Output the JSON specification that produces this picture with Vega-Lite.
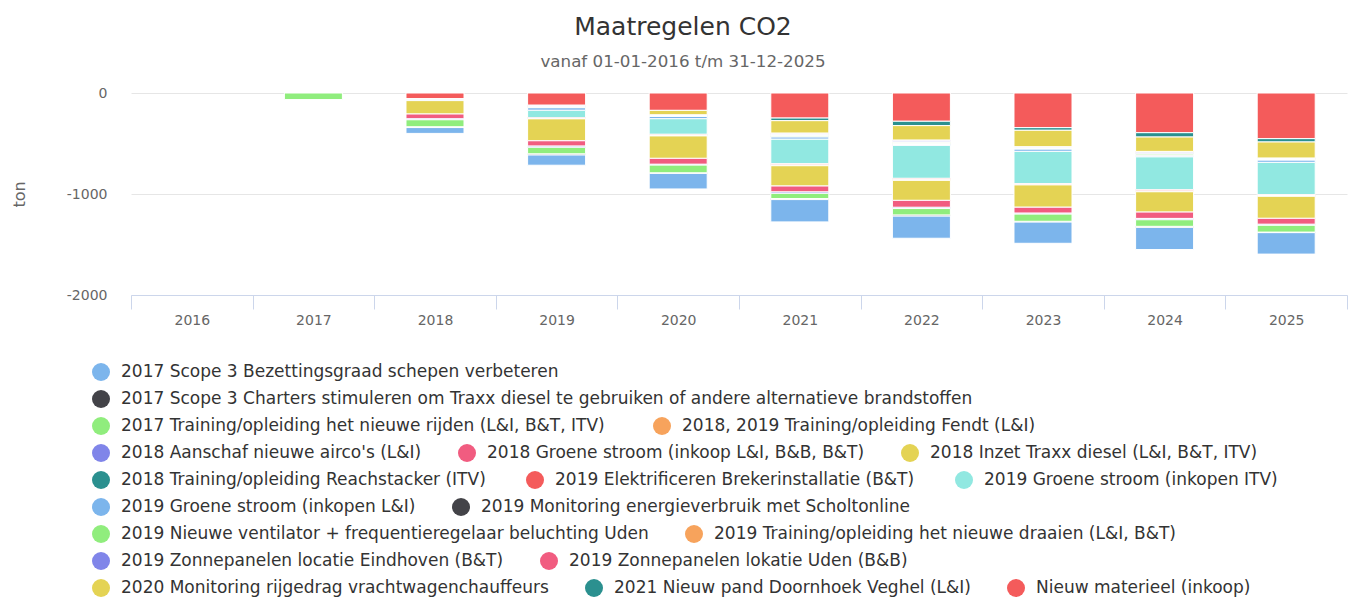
{
  "$schema": "https://vega.github.io/schema/vega-lite/v6.json",
  "width": 1216,
  "height": 202,
  "autosize": {"type": "none"},
  "padding": {"left": 131, "top": 93, "right": 20, "bottom": 309},
  "background": "white",
  "title": {
    "text": "Maatregelen CO2",
    "subtitle": "vanaf 01-01-2016 t/m 31-12-2025",
    "anchor": "middle",
    "dx": -56,
    "font": "DejaVu Sans",
    "fontSize": 25,
    "fontWeight": "normal",
    "color": "#333333",
    "subtitleFont": "DejaVu Sans",
    "subtitleFontSize": 16.7,
    "subtitleColor": "#666666",
    "subtitlePadding": 14,
    "offset": 15
  },
  "datasets": {
    "co2": [
      {"jaar": "2017", "maatregel": "2017 Training/opleiding het nieuwe rijden (L&I, B&T, ITV)", "ton": -65},

      {"jaar": "2018", "maatregel": "Nieuw materieel (inkoop)", "ton": -55},
      {"jaar": "2018", "maatregel": "2019 Elektrificeren Brekerinstallatie (B&T)", "ton": -10},
      {"jaar": "2018", "maatregel": "2018 Training/opleiding Reachstacker (ITV)", "ton": -10},
      {"jaar": "2018", "maatregel": "2018 Inzet Traxx diesel (L&I, B&T, ITV)", "ton": -133},
      {"jaar": "2018", "maatregel": "2018 Groene stroom (inkoop L&I, B&B, B&T)", "ton": -48},
      {"jaar": "2018", "maatregel": "2018 Aanschaf nieuwe airco's (L&I)", "ton": -8},
      {"jaar": "2018", "maatregel": "2017 Training/opleiding het nieuwe rijden (L&I, B&T, ITV)", "ton": -70},
      {"jaar": "2018", "maatregel": "2017 Scope 3 Charters stimuleren om Traxx diesel te gebruiken of andere alternatieve brandstoffen", "ton": -8},
      {"jaar": "2018", "maatregel": "2017 Scope 3 Bezettingsgraad schepen verbeteren", "ton": -58},

      {"jaar": "2019", "maatregel": "Nieuw materieel (inkoop)", "ton": -119},
      {"jaar": "2019", "maatregel": "2019 Zonnepanelen lokatie Uden (B&B)", "ton": -7},
      {"jaar": "2019", "maatregel": "2019 Zonnepanelen locatie Eindhoven (B&T)", "ton": -7},
      {"jaar": "2019", "maatregel": "2019 Training/opleiding het nieuwe draaien (L&I, B&T)", "ton": -6},
      {"jaar": "2019", "maatregel": "2019 Nieuwe ventilator + frequentieregelaar beluchting Uden", "ton": -6},
      {"jaar": "2019", "maatregel": "2019 Groene stroom (inkopen L&I)", "ton": -25},
      {"jaar": "2019", "maatregel": "2019 Groene stroom (inkopen ITV)", "ton": -76},
      {"jaar": "2019", "maatregel": "2019 Elektrificeren Brekerinstallatie (B&T)", "ton": -5},
      {"jaar": "2019", "maatregel": "2018, 2019 Training/opleiding Fendt (L&I)", "ton": -5},
      {"jaar": "2019", "maatregel": "2018 Inzet Traxx diesel (L&I, B&T, ITV)", "ton": -217},
      {"jaar": "2019", "maatregel": "2018 Groene stroom (inkoop L&I, B&B, B&T)", "ton": -53},
      {"jaar": "2019", "maatregel": "2018 Aanschaf nieuwe airco's (L&I)", "ton": -10},
      {"jaar": "2019", "maatregel": "2017 Training/opleiding het nieuwe rijden (L&I, B&T, ITV)", "ton": -66},
      {"jaar": "2019", "maatregel": "2017 Scope 3 Charters stimuleren om Traxx diesel te gebruiken of andere alternatieve brandstoffen", "ton": -10},
      {"jaar": "2019", "maatregel": "2017 Scope 3 Bezettingsgraad schepen verbeteren", "ton": -103},

      {"jaar": "2020", "maatregel": "Nieuw materieel (inkoop)", "ton": -172},
      {"jaar": "2020", "maatregel": "2020 Monitoring rijgedrag vrachtwagenchauffeurs", "ton": -43},
      {"jaar": "2020", "maatregel": "2019 Zonnepanelen lokatie Uden (B&B)", "ton": -4},
      {"jaar": "2020", "maatregel": "2019 Zonnepanelen locatie Eindhoven (B&T)", "ton": -4},
      {"jaar": "2020", "maatregel": "2019 Training/opleiding het nieuwe draaien (L&I, B&T)", "ton": -4},
      {"jaar": "2020", "maatregel": "2019 Nieuwe ventilator + frequentieregelaar beluchting Uden", "ton": -4},
      {"jaar": "2020", "maatregel": "2019 Groene stroom (inkopen L&I)", "ton": -23},
      {"jaar": "2020", "maatregel": "2019 Groene stroom (inkopen ITV)", "ton": -155},
      {"jaar": "2020", "maatregel": "2019 Elektrificeren Brekerinstallatie (B&T)", "ton": -8},
      {"jaar": "2020", "maatregel": "2018, 2019 Training/opleiding Fendt (L&I)", "ton": -8},
      {"jaar": "2020", "maatregel": "2018 Inzet Traxx diesel (L&I, B&T, ITV)", "ton": -222},
      {"jaar": "2020", "maatregel": "2018 Groene stroom (inkoop L&I, B&B, B&T)", "ton": -59},
      {"jaar": "2020", "maatregel": "2018 Aanschaf nieuwe airco's (L&I)", "ton": -6},
      {"jaar": "2020", "maatregel": "2017 Training/opleiding het nieuwe rijden (L&I, B&T, ITV)", "ton": -78},
      {"jaar": "2020", "maatregel": "2017 Scope 3 Charters stimuleren om Traxx diesel te gebruiken of andere alternatieve brandstoffen", "ton": -5},
      {"jaar": "2020", "maatregel": "2017 Scope 3 Bezettingsgraad schepen verbeteren", "ton": -155},

      {"jaar": "2021", "maatregel": "Nieuw materieel (inkoop)", "ton": -248},
      {"jaar": "2021", "maatregel": "2021 Nieuw pand Doornhoek Veghel (L&I)", "ton": -26},
      {"jaar": "2021", "maatregel": "2020 Monitoring rijgedrag vrachtwagenchauffeurs", "ton": -122},
      {"jaar": "2021", "maatregel": "2019 Zonnepanelen lokatie Uden (B&B)", "ton": -8},
      {"jaar": "2021", "maatregel": "2019 Zonnepanelen locatie Eindhoven (B&T)", "ton": -8},
      {"jaar": "2021", "maatregel": "2019 Training/opleiding het nieuwe draaien (L&I, B&T)", "ton": -8},
      {"jaar": "2021", "maatregel": "2019 Nieuwe ventilator + frequentieregelaar beluchting Uden", "ton": -8},
      {"jaar": "2021", "maatregel": "2019 Monitoring energieverbruik met Scholtonline", "ton": -8},
      {"jaar": "2021", "maatregel": "2019 Groene stroom (inkopen L&I)", "ton": -20},
      {"jaar": "2021", "maatregel": "2019 Groene stroom (inkopen ITV)", "ton": -244},
      {"jaar": "2021", "maatregel": "2019 Elektrificeren Brekerinstallatie (B&T)", "ton": -10},
      {"jaar": "2021", "maatregel": "2018, 2019 Training/opleiding Fendt (L&I)", "ton": -10},
      {"jaar": "2021", "maatregel": "2018 Inzet Traxx diesel (L&I, B&T, ITV)", "ton": -201},
      {"jaar": "2021", "maatregel": "2018 Groene stroom (inkoop L&I, B&B, B&T)", "ton": -59},
      {"jaar": "2021", "maatregel": "2018 Aanschaf nieuwe airco's (L&I)", "ton": -12},
      {"jaar": "2021", "maatregel": "2017 Training/opleiding het nieuwe rijden (L&I, B&T, ITV)", "ton": -53},
      {"jaar": "2021", "maatregel": "2017 Scope 3 Charters stimuleren om Traxx diesel te gebruiken of andere alternatieve brandstoffen", "ton": -10},
      {"jaar": "2021", "maatregel": "2017 Scope 3 Bezettingsgraad schepen verbeteren", "ton": -221},

      {"jaar": "2022", "maatregel": "Nieuw materieel (inkoop)", "ton": -280},
      {"jaar": "2022", "maatregel": "2021 Nieuw pand Doornhoek Veghel (L&I)", "ton": -43},
      {"jaar": "2022", "maatregel": "2020 Monitoring rijgedrag vrachtwagenchauffeurs", "ton": -142},
      {"jaar": "2022", "maatregel": "2019 Zonnepanelen lokatie Uden (B&B)", "ton": -9},
      {"jaar": "2022", "maatregel": "2019 Zonnepanelen locatie Eindhoven (B&T)", "ton": -9},
      {"jaar": "2022", "maatregel": "2019 Training/opleiding het nieuwe draaien (L&I, B&T)", "ton": -9},
      {"jaar": "2022", "maatregel": "2019 Nieuwe ventilator + frequentieregelaar beluchting Uden", "ton": -9},
      {"jaar": "2022", "maatregel": "2019 Monitoring energieverbruik met Scholtonline", "ton": -9},
      {"jaar": "2022", "maatregel": "2019 Groene stroom (inkopen L&I)", "ton": -8},
      {"jaar": "2022", "maatregel": "2019 Groene stroom (inkopen ITV)", "ton": -327},
      {"jaar": "2022", "maatregel": "2019 Elektrificeren Brekerinstallatie (B&T)", "ton": -10},
      {"jaar": "2022", "maatregel": "2018, 2019 Training/opleiding Fendt (L&I)", "ton": -10},
      {"jaar": "2022", "maatregel": "2018 Inzet Traxx diesel (L&I, B&T, ITV)", "ton": -198},
      {"jaar": "2022", "maatregel": "2018 Groene stroom (inkoop L&I, B&B, B&T)", "ton": -69},
      {"jaar": "2022", "maatregel": "2018 Aanschaf nieuwe airco's (L&I)", "ton": -12},
      {"jaar": "2022", "maatregel": "2017 Training/opleiding het nieuwe rijden (L&I, B&T, ITV)", "ton": -63},
      {"jaar": "2022", "maatregel": "2017 Scope 3 Charters stimuleren om Traxx diesel te gebruiken of andere alternatieve brandstoffen", "ton": -10},
      {"jaar": "2022", "maatregel": "2017 Scope 3 Bezettingsgraad schepen verbeteren", "ton": -221},

      {"jaar": "2023", "maatregel": "Nieuw materieel (inkoop)", "ton": -343},
      {"jaar": "2023", "maatregel": "2021 Nieuw pand Doornhoek Veghel (L&I)", "ton": -26},
      {"jaar": "2023", "maatregel": "2020 Monitoring rijgedrag vrachtwagenchauffeurs", "ton": -162},
      {"jaar": "2023", "maatregel": "2019 Zonnepanelen lokatie Uden (B&B)", "ton": -6},
      {"jaar": "2023", "maatregel": "2019 Zonnepanelen locatie Eindhoven (B&T)", "ton": -6},
      {"jaar": "2023", "maatregel": "2019 Training/opleiding het nieuwe draaien (L&I, B&T)", "ton": -6},
      {"jaar": "2023", "maatregel": "2019 Nieuwe ventilator + frequentieregelaar beluchting Uden", "ton": -5},
      {"jaar": "2023", "maatregel": "2019 Groene stroom (inkopen L&I)", "ton": -23},
      {"jaar": "2023", "maatregel": "2019 Groene stroom (inkopen ITV)", "ton": -320},
      {"jaar": "2023", "maatregel": "2019 Elektrificeren Brekerinstallatie (B&T)", "ton": -7},
      {"jaar": "2023", "maatregel": "2018, 2019 Training/opleiding Fendt (L&I)", "ton": -6},
      {"jaar": "2023", "maatregel": "2018 Inzet Traxx diesel (L&I, B&T, ITV)", "ton": -221},
      {"jaar": "2023", "maatregel": "2018 Groene stroom (inkoop L&I, B&B, B&T)", "ton": -59},
      {"jaar": "2023", "maatregel": "2018 Aanschaf nieuwe airco's (L&I)", "ton": -7},
      {"jaar": "2023", "maatregel": "2017 Training/opleiding het nieuwe rijden (L&I, B&T, ITV)", "ton": -73},
      {"jaar": "2023", "maatregel": "2017 Scope 3 Charters stimuleren om Traxx diesel te gebruiken of andere alternatieve brandstoffen", "ton": -6},
      {"jaar": "2023", "maatregel": "2017 Scope 3 Bezettingsgraad schepen verbeteren", "ton": -212},

      {"jaar": "2024", "maatregel": "Nieuw materieel (inkoop)", "ton": -393},
      {"jaar": "2024", "maatregel": "2021 Nieuw pand Doornhoek Veghel (L&I)", "ton": -43},
      {"jaar": "2024", "maatregel": "2020 Monitoring rijgedrag vrachtwagenchauffeurs", "ton": -142},
      {"jaar": "2024", "maatregel": "2019 Zonnepanelen lokatie Uden (B&B)", "ton": -9},
      {"jaar": "2024", "maatregel": "2019 Zonnepanelen locatie Eindhoven (B&T)", "ton": -9},
      {"jaar": "2024", "maatregel": "2019 Training/opleiding het nieuwe draaien (L&I, B&T)", "ton": -9},
      {"jaar": "2024", "maatregel": "2019 Nieuwe ventilator + frequentieregelaar beluchting Uden", "ton": -9},
      {"jaar": "2024", "maatregel": "2019 Monitoring energieverbruik met Scholtonline", "ton": -9},
      {"jaar": "2024", "maatregel": "2019 Groene stroom (inkopen L&I)", "ton": -8},
      {"jaar": "2024", "maatregel": "2019 Groene stroom (inkopen ITV)", "ton": -327},
      {"jaar": "2024", "maatregel": "2019 Elektrificeren Brekerinstallatie (B&T)", "ton": -10},
      {"jaar": "2024", "maatregel": "2018, 2019 Training/opleiding Fendt (L&I)", "ton": -10},
      {"jaar": "2024", "maatregel": "2018 Inzet Traxx diesel (L&I, B&T, ITV)", "ton": -201},
      {"jaar": "2024", "maatregel": "2018 Groene stroom (inkoop L&I, B&B, B&T)", "ton": -63},
      {"jaar": "2024", "maatregel": "2018 Aanschaf nieuwe airco's (L&I)", "ton": -12},
      {"jaar": "2024", "maatregel": "2017 Training/opleiding het nieuwe rijden (L&I, B&T, ITV)", "ton": -66},
      {"jaar": "2024", "maatregel": "2017 Scope 3 Charters stimuleren om Traxx diesel te gebruiken of andere alternatieve brandstoffen", "ton": -10},
      {"jaar": "2024", "maatregel": "2017 Scope 3 Bezettingsgraad schepen verbeteren", "ton": -220},

      {"jaar": "2025", "maatregel": "Nieuw materieel (inkoop)", "ton": -452},
      {"jaar": "2025", "maatregel": "2021 Nieuw pand Doornhoek Veghel (L&I)", "ton": -33},
      {"jaar": "2025", "maatregel": "2020 Monitoring rijgedrag vrachtwagenchauffeurs", "ton": -158},
      {"jaar": "2025", "maatregel": "2019 Zonnepanelen lokatie Uden (B&B)", "ton": -5},
      {"jaar": "2025", "maatregel": "2019 Zonnepanelen locatie Eindhoven (B&T)", "ton": -5},
      {"jaar": "2025", "maatregel": "2019 Training/opleiding het nieuwe draaien (L&I, B&T)", "ton": -5},
      {"jaar": "2025", "maatregel": "2019 Nieuwe ventilator + frequentieregelaar beluchting Uden", "ton": -5},
      {"jaar": "2025", "maatregel": "2019 Groene stroom (inkopen L&I)", "ton": -23},
      {"jaar": "2025", "maatregel": "2019 Groene stroom (inkopen ITV)", "ton": -320},
      {"jaar": "2025", "maatregel": "2019 Elektrificeren Brekerinstallatie (B&T)", "ton": -9},
      {"jaar": "2025", "maatregel": "2018, 2019 Training/opleiding Fendt (L&I)", "ton": -8},
      {"jaar": "2025", "maatregel": "2018 Inzet Traxx diesel (L&I, B&T, ITV)", "ton": -218},
      {"jaar": "2025", "maatregel": "2018 Groene stroom (inkoop L&I, B&B, B&T)", "ton": -59},
      {"jaar": "2025", "maatregel": "2018 Aanschaf nieuwe airco's (L&I)", "ton": -8},
      {"jaar": "2025", "maatregel": "2017 Training/opleiding het nieuwe rijden (L&I, B&T, ITV)", "ton": -69},
      {"jaar": "2025", "maatregel": "2017 Scope 3 Charters stimuleren om Traxx diesel te gebruiken of andere alternatieve brandstoffen", "ton": -5},
      {"jaar": "2025", "maatregel": "2017 Scope 3 Bezettingsgraad schepen verbeteren", "ton": -213}
    ]
  },
  "data": {"name": "co2"},
  "transform": [
    {"stack": "ton", "groupby": ["jaar"], "sort": [{"field": "maatregel", "order": "descending"}], "as": ["y0", "y1"], "offset": "zero"}
  ],
  "encoding": {
    "x": {
      "field": "jaar",
      "type": "ordinal",
      "scale": {"domain": ["2016", "2017", "2018", "2019", "2020", "2021", "2022", "2023", "2024", "2025"], "paddingInner": 0, "paddingOuter": 0},
      "axis": {"title": null, "labelAngle": 0, "tickBand": "extent", "tickSize": 14, "domainColor": "#ccd6eb", "tickColor": "#ccd6eb", "labelColor": "#666666", "labelFontSize": 14, "labelPadding": 4, "grid": false}
    },
    "y": {
      "field": "y0",
      "type": "quantitative",
      "scale": {"domain": [-2000, 0], "nice": false, "zero": false},
      "axis": {"title": "ton", "values": [0, -1000, -2000], "labelExpr": "'' + datum.value", "domain": false, "ticks": false, "tickSize": 0, "labelPadding": 24, "labelColor": "#666666", "labelFontSize": 14, "gridColor": "#e6e6e6", "titleColor": "#666666", "titleFontSize": 16, "titleFontWeight": "normal", "titlePadding": 39}
    },
    "y2": {"field": "y1"}
  },
  "layer": [
    {
      "transform": [{"filter": {"field": "maatregel", "oneOf": ["2017 Scope 3 Bezettingsgraad schepen verbeteren"]}}],
      "mark": {"type": "bar", "stroke": "white", "strokeWidth": 1, "width": {"band": 0.477}},
      "encoding": {"color": {"field": "maatregel", "type": "nominal", "scale": {"domain": ["2017 Scope 3 Bezettingsgraad schepen verbeteren"], "range": ["#7cb5ec"]}, "legend": {"title": null, "orient": "none", "legendX": -39, "legendY": 270}}}
    },
    {
      "transform": [{"filter": {"field": "maatregel", "oneOf": ["2017 Scope 3 Charters stimuleren om Traxx diesel te gebruiken of andere alternatieve brandstoffen"]}}],
      "mark": {"type": "bar", "stroke": "white", "strokeWidth": 1, "width": {"band": 0.477}},
      "encoding": {"color": {"field": "maatregel", "type": "nominal", "scale": {"domain": ["2017 Scope 3 Charters stimuleren om Traxx diesel te gebruiken of andere alternatieve brandstoffen"], "range": ["#434348"]}, "legend": {"title": null, "orient": "none", "legendX": -39, "legendY": 297}}}
    },
    {
      "transform": [{"filter": {"field": "maatregel", "oneOf": ["2017 Training/opleiding het nieuwe rijden (L&I, B&T, ITV)", "2018, 2019 Training/opleiding Fendt (L&I)"]}}],
      "mark": {"type": "bar", "stroke": "white", "strokeWidth": 1, "width": {"band": 0.477}},
      "encoding": {"color": {"field": "maatregel", "type": "nominal", "scale": {"domain": ["2017 Training/opleiding het nieuwe rijden (L&I, B&T, ITV)", "2018, 2019 Training/opleiding Fendt (L&I)"], "range": ["#90ed7d", "#f7a35c"]}, "legend": {"title": null, "orient": "none", "legendX": -39, "legendY": 324, "columnPadding": 48}}}
    },
    {
      "transform": [{"filter": {"field": "maatregel", "oneOf": ["2018 Aanschaf nieuwe airco's (L&I)", "2018 Groene stroom (inkoop L&I, B&B, B&T)", "2018 Inzet Traxx diesel (L&I, B&T, ITV)"]}}],
      "mark": {"type": "bar", "stroke": "white", "strokeWidth": 1, "width": {"band": 0.477}},
      "encoding": {"color": {"field": "maatregel", "type": "nominal", "scale": {"domain": ["2018 Aanschaf nieuwe airco's (L&I)", "2018 Groene stroom (inkoop L&I, B&B, B&T)", "2018 Inzet Traxx diesel (L&I, B&T, ITV)"], "range": ["#8085e9", "#f15c80", "#e4d354"]}, "legend": {"title": null, "orient": "none", "legendX": -39, "legendY": 351}}}
    },
    {
      "transform": [{"filter": {"field": "maatregel", "oneOf": ["2018 Training/opleiding Reachstacker (ITV)", "2019 Elektrificeren Brekerinstallatie (B&T)", "2019 Groene stroom (inkopen ITV)"]}}],
      "mark": {"type": "bar", "stroke": "white", "strokeWidth": 1, "width": {"band": 0.477}},
      "encoding": {"color": {"field": "maatregel", "type": "nominal", "scale": {"domain": ["2018 Training/opleiding Reachstacker (ITV)", "2019 Elektrificeren Brekerinstallatie (B&T)", "2019 Groene stroom (inkopen ITV)"], "range": ["#2b908f", "#f45b5b", "#91e8e1"]}, "legend": {"title": null, "orient": "none", "legendX": -39, "legendY": 378, "columnPadding": 40}}}
    },
    {
      "transform": [{"filter": {"field": "maatregel", "oneOf": ["2019 Groene stroom (inkopen L&I)", "2019 Monitoring energieverbruik met Scholtonline"]}}],
      "mark": {"type": "bar", "stroke": "white", "strokeWidth": 1, "width": {"band": 0.477}},
      "encoding": {"color": {"field": "maatregel", "type": "nominal", "scale": {"domain": ["2019 Groene stroom (inkopen L&I)", "2019 Monitoring energieverbruik met Scholtonline"], "range": ["#7cb5ec", "#434348"]}, "legend": {"title": null, "orient": "none", "legendX": -39, "legendY": 405}}}
    },
    {
      "transform": [{"filter": {"field": "maatregel", "oneOf": ["2019 Nieuwe ventilator + frequentieregelaar beluchting Uden", "2019 Training/opleiding het nieuwe draaien (L&I, B&T)"]}}],
      "mark": {"type": "bar", "stroke": "white", "strokeWidth": 1, "width": {"band": 0.477}},
      "encoding": {"color": {"field": "maatregel", "type": "nominal", "scale": {"domain": ["2019 Nieuwe ventilator + frequentieregelaar beluchting Uden", "2019 Training/opleiding het nieuwe draaien (L&I, B&T)"], "range": ["#90ed7d", "#f7a35c"]}, "legend": {"title": null, "orient": "none", "legendX": -39, "legendY": 432}}}
    },
    {
      "transform": [{"filter": {"field": "maatregel", "oneOf": ["2019 Zonnepanelen locatie Eindhoven (B&T)", "2019 Zonnepanelen lokatie Uden (B&B)"]}}],
      "mark": {"type": "bar", "stroke": "white", "strokeWidth": 1, "width": {"band": 0.477}},
      "encoding": {"color": {"field": "maatregel", "type": "nominal", "scale": {"domain": ["2019 Zonnepanelen locatie Eindhoven (B&T)", "2019 Zonnepanelen lokatie Uden (B&B)"], "range": ["#8085e9", "#f15c80"]}, "legend": {"title": null, "orient": "none", "legendX": -39, "legendY": 459}}}
    },
    {
      "transform": [{"filter": {"field": "maatregel", "oneOf": ["2020 Monitoring rijgedrag vrachtwagenchauffeurs", "2021 Nieuw pand Doornhoek Veghel (L&I)", "Nieuw materieel (inkoop)"]}}],
      "mark": {"type": "bar", "stroke": "white", "strokeWidth": 1, "width": {"band": 0.477}},
      "encoding": {"color": {"field": "maatregel", "type": "nominal", "scale": {"domain": ["2020 Monitoring rijgedrag vrachtwagenchauffeurs", "2021 Nieuw pand Doornhoek Veghel (L&I)", "Nieuw materieel (inkoop)"], "range": ["#e4d354", "#2b908f", "#f45b5b"]}, "legend": {"title": null, "orient": "none", "legendX": -39, "legendY": 486}}}
    }
  ],
  "resolve": {"scale": {"color": "independent"}},
  "config": {
    "font": "DejaVu Sans",
    "view": {"stroke": null},
    "axis": {"labelFont": "DejaVu Sans", "titleFont": "DejaVu Sans"},
    "legend": {
      "direction": "horizontal",
      "symbolType": "circle",
      "symbolSize": 324,
      "symbolStrokeWidth": 0,
      "symbolOpacity": 1,
      "labelFont": "DejaVu Sans",
      "labelFontSize": 17,
      "labelColor": "#333333",
      "labelOffset": 11,
      "labelLimit": 2000,
      "columnPadding": 36,
      "padding": 0
    }
  }
}
